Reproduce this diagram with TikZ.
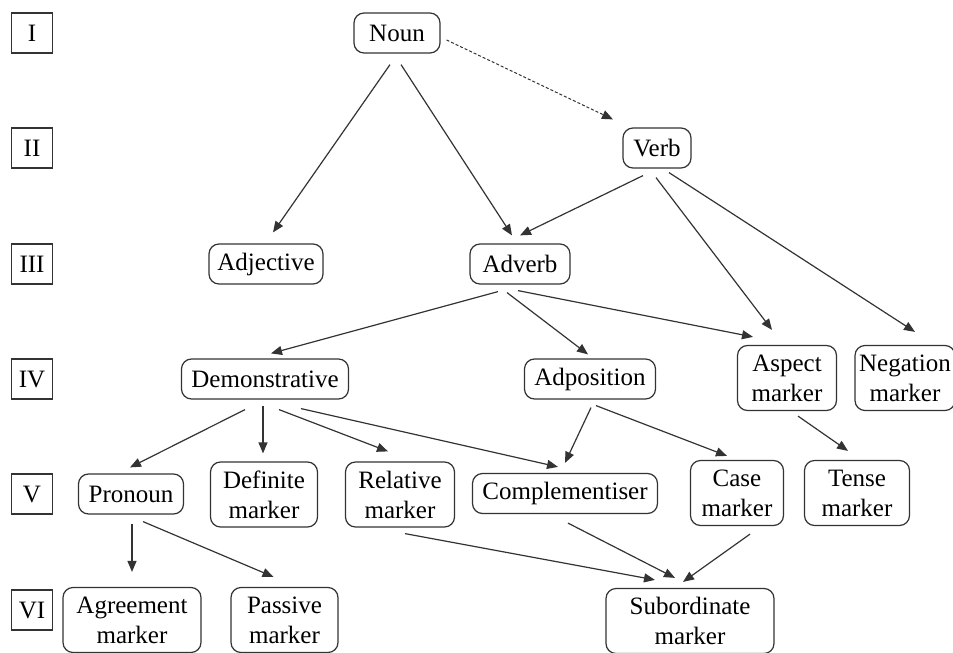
\documentclass[tikz,border=0pt]{standalone}
\usepackage{fontspec}
\setmainfont{Liberation Serif}
\usepackage{tikz}
\usetikzlibrary{arrows.meta}
\definecolor{linegray}{HTML}{333333}

\begin{document}
\begin{tikzpicture}[x=1pt,y=-1pt,line width=1.2pt,draw=linegray,
  >={Triangle[length=11pt,width=9pt]},
  every node/.style={font=\fontsize{25}{30}\selectfont,text=black},
  box/.style={draw=linegray,rounded corners=10pt,inner sep=0pt,align=center,minimum height=40pt},
  tall/.style={box,minimum height=65pt},
  lvl/.style={draw=linegray,inner sep=0pt,minimum width=41pt,minimum height=40pt}]
\useasboundingbox (0,0) rectangle (953,653);
\clip (0,0) rectangle (953,653);
\node[lvl] (l1) at (32,33) {I};
\node[lvl] (l2) at (32,148) {II};
\node[lvl] (l3) at (32,264) {III};
\node[lvl] (l4) at (32,379) {IV};
\node[lvl] (l5) at (32,494) {V};
\node[lvl] (l6) at (32,610) {VI};
\node[box,minimum width=86pt] (noun) at (397,33) {Noun};
\node[box,minimum width=68pt] (verb) at (657,148) {Verb};
\node[box,minimum width=114pt] (adj) at (266,264) {Adjective};
\node[box,minimum width=100pt] (adv) at (520,264) {Adverb};
\node[box,minimum width=167pt] (dem) at (265,379) {Demonstrative};
\node[box,minimum width=131pt] (adpos) at (590,379) {Adposition};
\node[tall,minimum width=99pt] (aspect) at (787,378) {Aspect\\marker};
\node[tall,minimum width=100pt] (neg) at (905,378) {Negation\\marker};
\node[box,minimum width=105pt] (pron) at (131,494) {Pronoun};
\node[tall,minimum width=107pt] (defm) at (264,494.5) {Definite\\marker};
\node[tall,minimum width=109pt] (relm) at (400,494.5) {Relative\\marker};
\node[box,minimum width=185pt] (comp) at (565,493.5) {Complementiser};
\node[tall,minimum width=93pt] (case) at (737,493) {Case\\marker};
\node[tall,minimum width=105pt] (tense) at (857,493) {Tense\\marker};
\node[tall,minimum width=138pt] (agree) at (132,620) {Agreement\\marker};
\node[tall,minimum width=107pt] (pass) at (284.5,620) {Passive\\marker};
\node[tall,minimum width=168pt] (sub) at (690,621) {Subordinate\\marker};
\draw[->] ([xshift=-7pt,yshift=-11pt]noun.south) -- ([xshift=7pt,yshift=11pt]adj.north);
\draw[->] ([xshift=4pt,yshift=-11pt]noun.south) -- ([xshift=-8pt,yshift=8pt]adv.north);
\draw[->,dash pattern=on 3pt off 2pt,line width=1pt] ([xshift=6pt,yshift=-7pt]noun.east) -- ([xshift=-44pt,yshift=8pt]verb.north);
\draw[->] ([xshift=-14pt,yshift=-7pt]verb.south) -- ([yshift=8pt]adv.north);
\draw[->] ([xshift=-1pt,yshift=-9pt]verb.south) -- ([xshift=-15pt,yshift=15pt]aspect.north);
\draw[->] ([xshift=12pt,yshift=-4pt]verb.south) -- ([xshift=10pt,yshift=13pt]neg.north);
\draw[->] ([xshift=-22pt,yshift=-7pt]adv.south) -- ([xshift=6pt,yshift=5pt]dem.north);
\draw[->] ([xshift=-13pt,yshift=-8pt]adv.south) -- ([xshift=-2pt,yshift=4pt]adpos.north);
\draw[->] ([xshift=-2pt,yshift=-6pt]adv.south) -- ([xshift=-34pt,yshift=8pt]aspect.north);
\draw[->] ([xshift=-20pt,yshift=-10pt]dem.south) -- ([xshift=-1pt,yshift=6pt]pron.north);
\draw[->] ([xshift=-2pt,yshift=-6pt]dem.south) -- ([xshift=-1pt,yshift=8pt]defm.north);
\draw[->] ([xshift=14pt,yshift=-10pt]dem.south) -- ([xshift=-12pt,yshift=10pt]relm.north);
\draw[->] ([xshift=36pt,yshift=-9pt]dem.south) -- ([xshift=-7pt,yshift=6pt]comp.north);
\draw[->] ([xshift=1pt,yshift=-8pt]adpos.south) -- ([yshift=10pt]comp.north);
\draw[->] ([xshift=6pt,yshift=-6pt]adpos.south) -- ([xshift=-10pt,yshift=4pt]case.north);
\draw[->] ([xshift=11pt,yshift=-5pt]aspect.south) -- ([xshift=-9pt,yshift=9pt]tense.north);
\draw[->] ([xshift=1pt,yshift=-9pt]pron.south) -- ([yshift=15pt]agree.north);
\draw[->] ([xshift=12pt,yshift=-7pt]pron.south) -- ([xshift=-11pt,yshift=10pt]pass.north);
\draw[->] ([xshift=5pt,yshift=-6pt]relm.south) -- ([xshift=-35pt,yshift=8pt]sub.north);
\draw[->] ([xshift=3pt,yshift=-9pt]comp.south) -- ([xshift=-15pt,yshift=10pt]sub.north);
\draw[->] ([xshift=13pt,yshift=-8pt]case.south) -- ([xshift=-7pt,yshift=6pt]sub.north);
\end{tikzpicture}
\end{document}
